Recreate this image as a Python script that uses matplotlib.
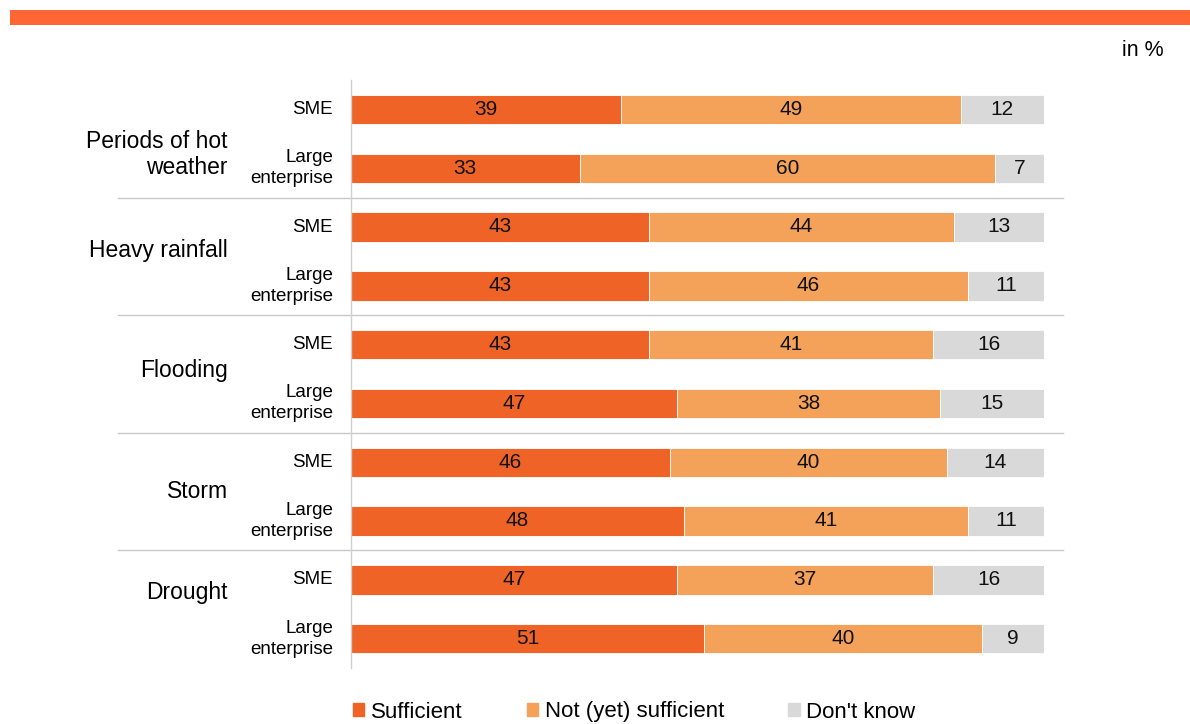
import matplotlib.pyplot as plt
import numpy as np

plt.rcParams['font.family'] = ['Liberation Sans', 'DejaVu Sans']

# ------------------- DATA -------------------
hazards = ["Periods of hot\nweather", "Heavy rainfall", "Flooding", "Storm", "Drought"]
sizes = ["SME", "Large\nenterprise"]
series = ["Sufficient", "Not (yet) sufficient", "Don't know"]

sufficient = [39, 33, 43, 43, 43, 47, 46, 48, 47, 51]
not_yet = [49, 60, 44, 46, 41, 38, 40, 41, 37, 40]
dont_know = [12, 7, 13, 11, 16, 15, 14, 11, 16, 9]

colors = ["#EF6426", "#F4A259", "#D9D9D9"]

# ------------------- LAYOUT -------------------
W, H = 1190, 724
fig = plt.figure(figsize=(W / 100, H / 100), dpi=100)
ax = fig.add_axes([351 / W, 1 - 668 / H, (1044 - 351) / W, (668 - 80) / H])

# orange band at the top
fig.patches.append(plt.Rectangle((10 / W, 1 - 25 / H), 1 - 10 / W, 15 / H,
                                 transform=fig.transFigure, color="#FF6633", lw=0))
fig.text(1143 / W, 1 - 50 / H, "in %", ha="center", va="center", fontsize=15.5)

y = np.arange(len(sufficient))
left = np.zeros(len(y))
for vals, col in zip([sufficient, not_yet, dont_know], colors):
    bars = ax.barh(y, vals, left=left, height=0.5, color=col, edgecolor="white", linewidth=0.6)
    for b, v in zip(bars, vals):
        ax.text(b.get_x() + b.get_width() / 2, b.get_y() + b.get_height() / 2, str(v),
                ha="center", va="center", fontsize=15, color="#111111")
    left += np.array(vals)

ax.set_xlim(0, 100)
ax.set_ylim(len(y) - 0.5, -0.5)
ax.set_xticks([])
ax.set_yticks([])
for s in ["top", "right", "bottom"]:
    ax.spines[s].set_visible(False)
ax.spines["left"].set_color("#D0D0D0")
ax.spines["left"].set_linewidth(1)

# sub-row labels
for i in y:
    ax.text(-2.6, i, sizes[i % 2], ha="right", va="center", fontsize=13.5,
            multialignment="right", linespacing=1.3)

# group labels and separators
label_shift = [0.27, -0.1, -0.06, 0.0, -0.28]
for g, name in enumerate(hazards):
    ax.text(-17.8, 2 * g + 0.5 + label_shift[g], name, ha="right", va="center",
            fontsize=16.5, multialignment="right", linespacing=1.2)
    if g < len(hazards) - 1:
        ax.plot([-33.6, 102.7], [2 * g + 1.5, 2 * g + 1.5], color="#C8C8C8",
                lw=1, clip_on=False)

# legend
handles = [plt.Rectangle((0, 0), 1, 1, color=c) for c in colors]
fig.legend(handles, series, loc="center", bbox_to_anchor=(0.533, 12 / H), ncol=3,
           frameon=False, fontsize=16, handlelength=0.5, handleheight=0.5,
           handletextpad=0.3, columnspacing=2.9, borderpad=0)

fig.savefig("out.png", dpi=100)
